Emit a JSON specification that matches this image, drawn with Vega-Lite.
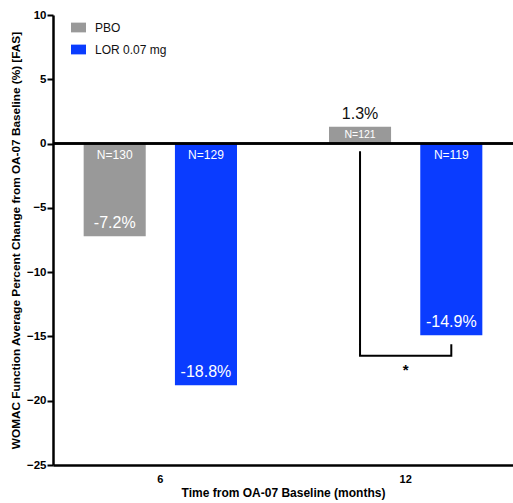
{
  "$schema": "https://vega.github.io/schema/vega-lite/v6.json",
  "autosize": "none",
  "width": 460,
  "height": 450,
  "padding": {"left": 53, "top": 15, "right": 0, "bottom": 38},
  "background": "white",
  "config": {
    "view": {"stroke": null},
    "font": "Liberation Sans"
  },
  "datasets": {
    "bars": [
      {"time": "6", "group": "PBO", "value": -7.2, "n": "N=130", "label": "-7.2%"},
      {"time": "6", "group": "LOR 0.07 mg", "value": -18.8, "n": "N=129", "label": "-18.8%"},
      {"time": "12", "group": "PBO", "value": 1.3, "n": "N=121", "label": "1.3%"},
      {"time": "12", "group": "LOR 0.07 mg", "value": -14.9, "n": "N=119", "label": "-14.9%"}
    ],
    "bracket": [
      {"time": "12", "group": "PBO", "v": -0.6, "o": 1},
      {"time": "12", "group": "PBO", "v": -16.5, "o": 2},
      {"time": "12", "group": "LOR 0.07 mg", "v": -16.5, "o": 3},
      {"time": "12", "group": "LOR 0.07 mg", "v": -15.6, "o": 4}
    ],
    "star": [{"time": "12", "v": -17.6, "t": "*"}]
  },
  "layer": [
    {
      "data": {"name": "bars"},
      "mark": {"type": "bar"},
      "encoding": {
        "x": {
          "field": "time", "type": "nominal", "sort": ["6", "12"],
          "scale": {"domain": ["6", "12"], "paddingInner": 0.375, "paddingOuter": 0.125},
          "axis": {
            "title": "Time from OA-07 Baseline (months)",
            "labelAngle": 0, "ticks": false, "domainColor": "black", "domainWidth": 2.5,
            "labelFont": "Liberation Sans", "labelFontWeight": "bold", "labelFontSize": 11, "labelColor": "black",
            "labelPadding": 8,
            "titleFont": "Liberation Sans", "titleFontWeight": "bold", "titleFontSize": 12, "titleColor": "black",
            "titlePadding": 3
          }
        },
        "xOffset": {
          "field": "group", "type": "nominal",
          "scale": {"domain": ["PBO", "LOR 0.07 mg"], "paddingInner": 0.32, "paddingOuter": 0}
        },
        "y": {
          "field": "value", "type": "quantitative",
          "scale": {"domain": [-25, 10], "nice": false, "zero": false},
          "axis": {
            "title": "WOMAC Function Average Percent Change from OA-07 Baseline (%) [FAS]",
            "values": [10, 7.5, 5, 2.5, 0, -2.5, -5, -7.5, -10, -12.5, -15, -17.5, -20, -22.5, -25],
            "labelExpr": "datum.value % 5 == 0 ? datum.label : ''",
            "grid": false, "tickSize": 6, "tickWidth": 2, "tickColor": "black",
            "domainColor": "black", "domainWidth": 2.5,
            "labelFont": "Liberation Sans", "labelFontWeight": "bold", "labelFontSize": 11.5, "labelColor": "black",
            "labelPadding": 1,
            "titleFont": "Liberation Sans", "titleFontWeight": "bold", "titleFontSize": 11.8, "titleColor": "black",
            "titlePadding": 5
          }
        },
        "color": {
          "field": "group", "type": "nominal",
          "scale": {"domain": ["PBO", "LOR 0.07 mg"], "range": ["#999999", "#0a3cff"]},
          "legend": {
            "title": null, "orient": "none", "legendX": 18, "legendY": 5,
            "symbolType": "M-1,-0.65H1V0.65H-1Z", "symbolSize": 225, "symbolStrokeWidth": 0,
            "labelFont": "Liberation Sans", "labelFontSize": 12, "labelColor": "#111111",
            "labelOffset": 9, "rowPadding": 8
          }
        }
      }
    },
    {
      "data": {"name": "bars"},
      "mark": {"type": "rule", "color": "black", "strokeWidth": 2},
      "encoding": {"y": {"datum": 0, "type": "quantitative"}}
    },
    {
      "data": {"name": "bars"},
      "transform": [{"filter": "datum.value < 0"}],
      "mark": {"type": "text", "color": "white", "fontSize": 12, "baseline": "middle", "dy": 11},
      "encoding": {
        "x": {"field": "time", "type": "nominal"},
        "xOffset": {"field": "group", "type": "nominal"},
        "y": {"datum": 0, "type": "quantitative"},
        "text": {"field": "n"}
      }
    },
    {
      "data": {"name": "bars"},
      "transform": [{"filter": "datum.value < 0"}],
      "mark": {"type": "text", "color": "white", "fontSize": 16, "baseline": "middle", "dy": -13},
      "encoding": {
        "x": {"field": "time", "type": "nominal"},
        "xOffset": {"field": "group", "type": "nominal"},
        "y": {"field": "value", "type": "quantitative"},
        "text": {"field": "label"}
      }
    },
    {
      "data": {"name": "bars"},
      "transform": [{"filter": "datum.value > 0"}],
      "mark": {"type": "text", "color": "white", "fontSize": 10.5, "baseline": "middle", "dy": 8},
      "encoding": {
        "x": {"field": "time", "type": "nominal"},
        "xOffset": {"field": "group", "type": "nominal"},
        "y": {"field": "value", "type": "quantitative"},
        "text": {"field": "n"}
      }
    },
    {
      "data": {"name": "bars"},
      "transform": [{"filter": "datum.value > 0"}],
      "mark": {"type": "text", "color": "#111111", "fontSize": 16, "baseline": "middle", "dy": -13},
      "encoding": {
        "x": {"field": "time", "type": "nominal"},
        "xOffset": {"field": "group", "type": "nominal"},
        "y": {"field": "value", "type": "quantitative"},
        "text": {"field": "label"}
      }
    },
    {
      "data": {"name": "bracket"},
      "mark": {"type": "line", "color": "black", "strokeWidth": 2},
      "encoding": {
        "x": {"field": "time", "type": "nominal"},
        "xOffset": {"field": "group", "type": "nominal"},
        "y": {"field": "v", "type": "quantitative"},
        "order": {"field": "o", "type": "quantitative"}
      }
    },
    {
      "data": {"name": "star"},
      "mark": {"type": "text", "color": "black", "fontSize": 15, "fontWeight": "bold", "baseline": "middle"},
      "encoding": {
        "x": {"field": "time", "type": "nominal"},
        "y": {"field": "v", "type": "quantitative"},
        "text": {"field": "t"}
      }
    }
  ]
}
